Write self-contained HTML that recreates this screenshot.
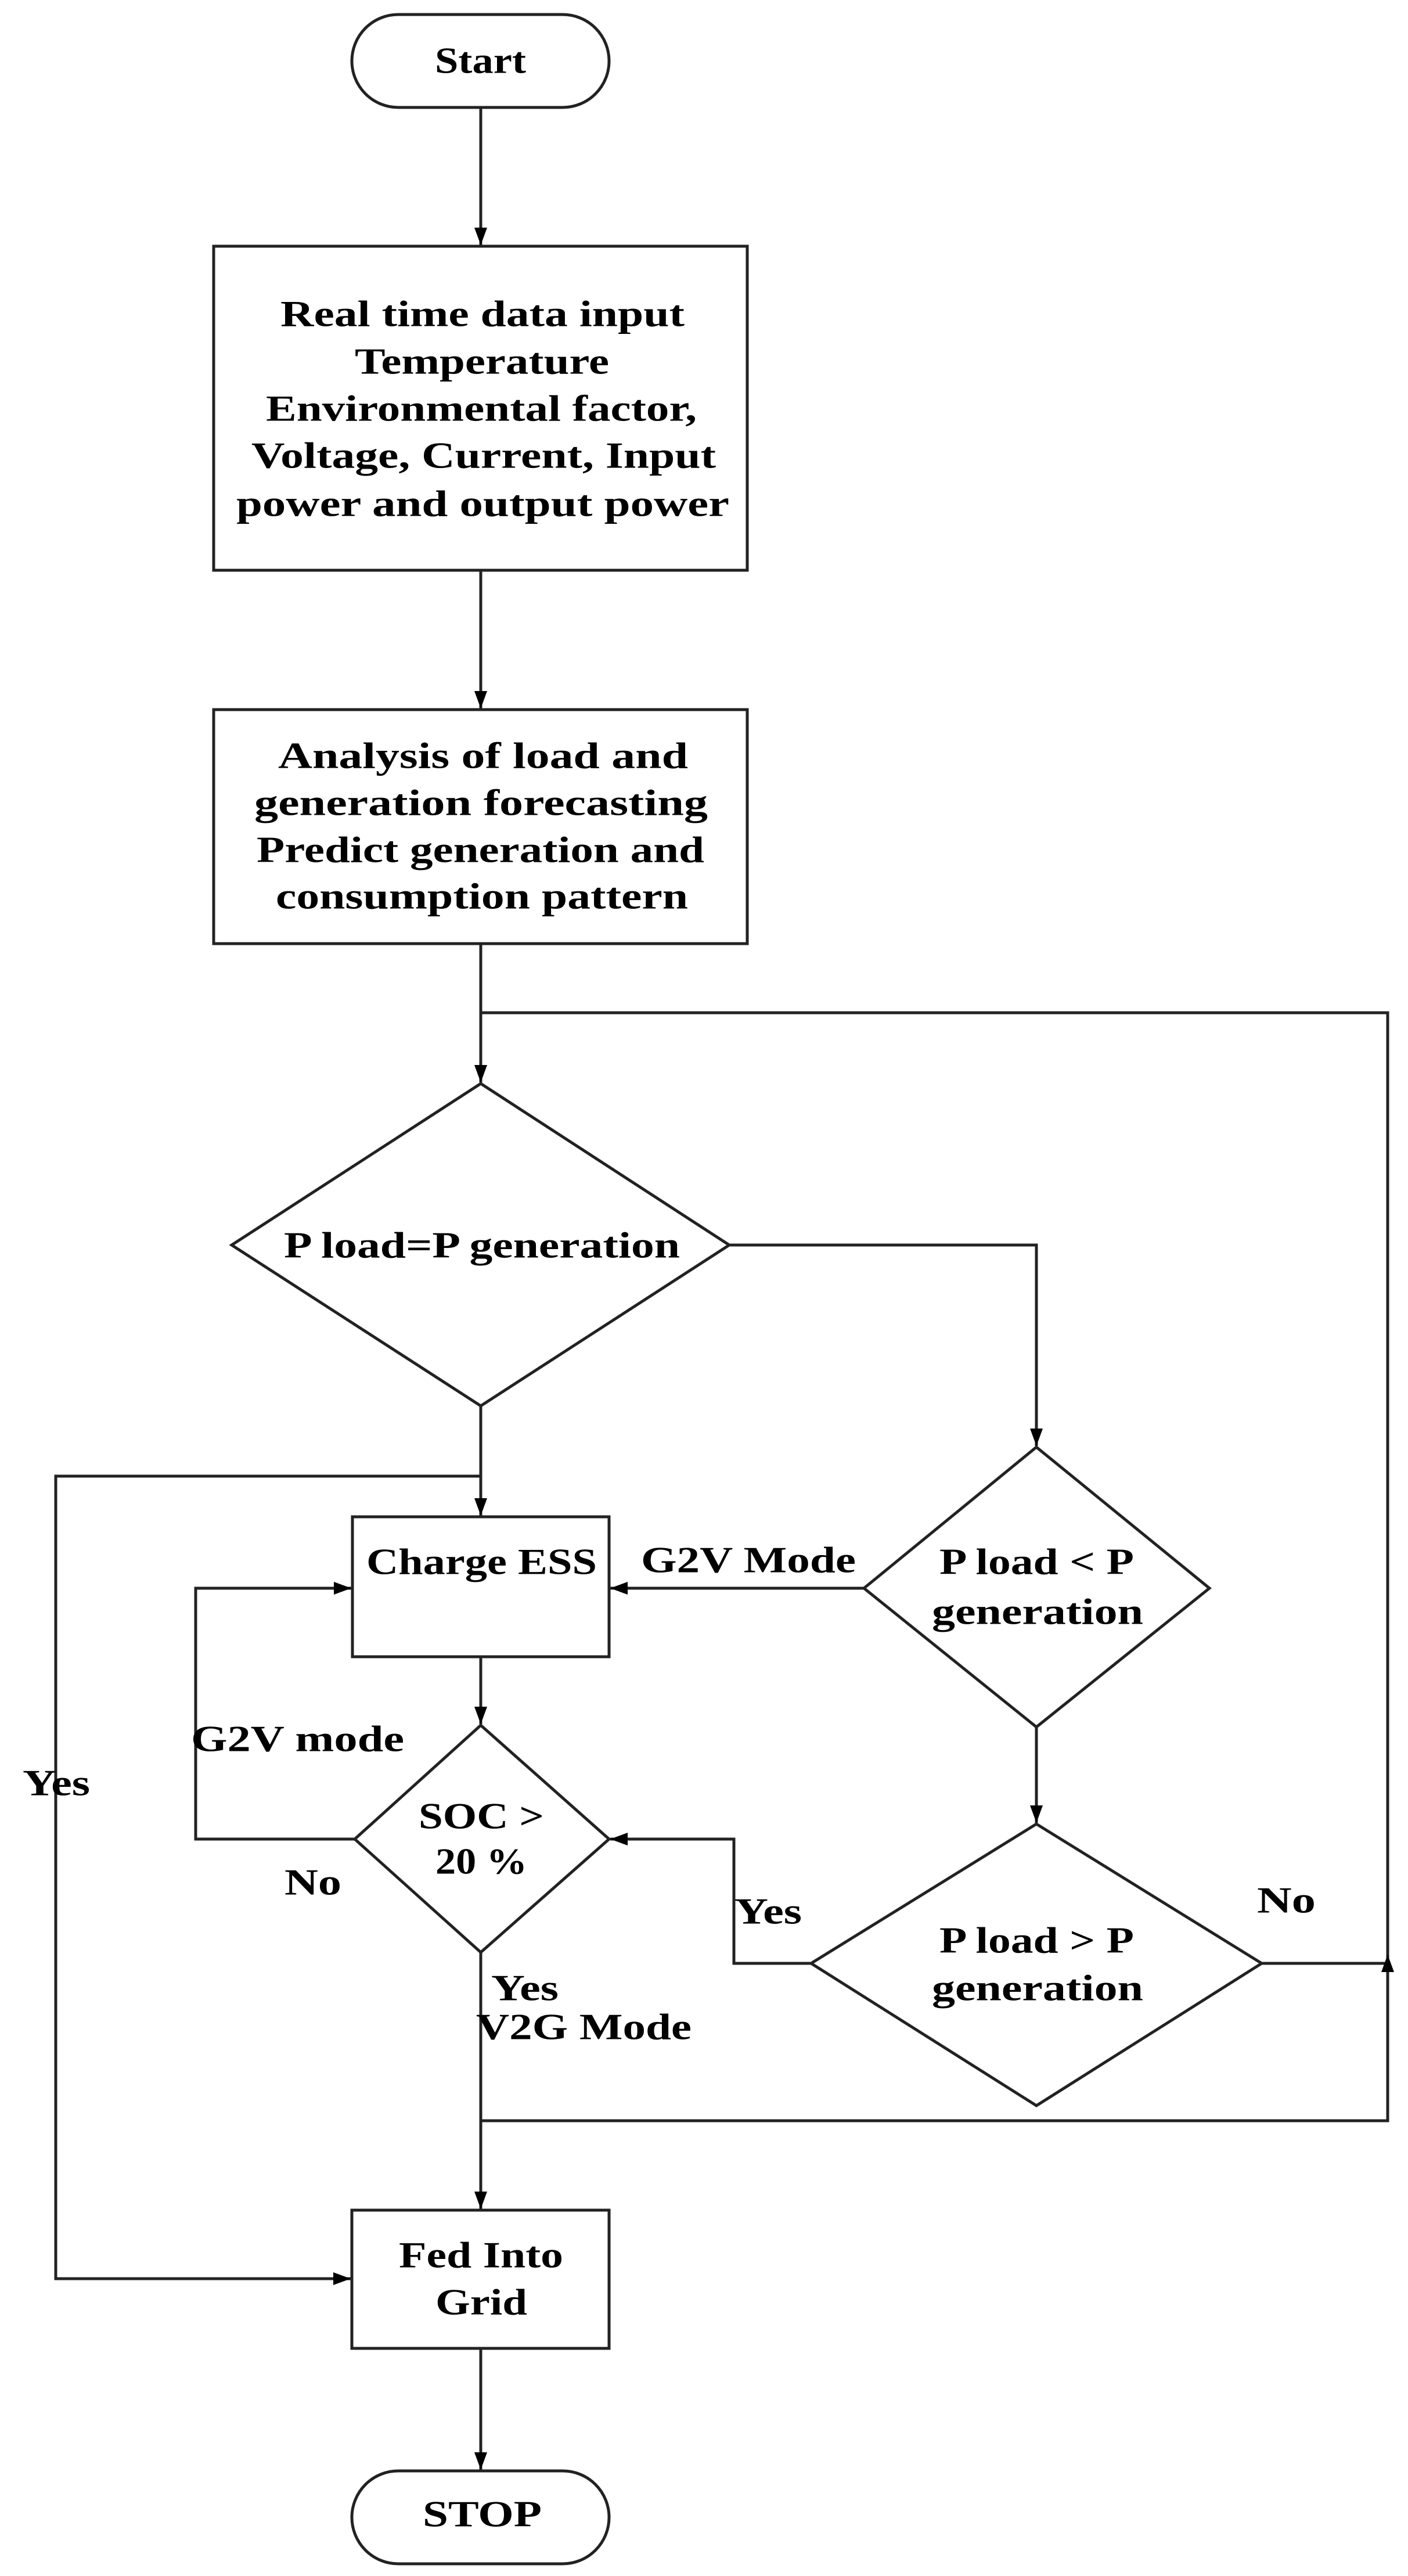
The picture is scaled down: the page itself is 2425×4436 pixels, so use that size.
<!DOCTYPE html>
<html><head><meta charset="utf-8"><style>html,body{margin:0;padding:0;background:#fff}svg{display:block}text{font-family:"Liberation Serif",serif;font-weight:bold;fill:#000;font-size:64px}</style></head>
<body>
<svg width="2425" height="4436" viewBox="0 0 2425 4436" xmlns="http://www.w3.org/2000/svg">
<defs><marker id="a" markerWidth="30" markerHeight="22" refX="10" refY="5" orient="auto" markerUnits="userSpaceOnUse" viewBox="0 0 10 10" preserveAspectRatio="none"><path d="M0,0 L10,5 L0,10 z" fill="#000"/></marker></defs>
<g fill="none" stroke="#222" stroke-width="5">
<rect x="606" y="25" width="443" height="160" rx="80"/>
<rect x="368" y="424" width="919" height="558"/>
<rect x="368" y="1222" width="919" height="403"/>
<polygon points="828,1866 1256,2144 828,2421 399,2144"/>
<rect x="607" y="2612" width="442" height="241"/>
<polygon points="1785,2492 2083,2735 1785,2974 1488,2735"/>
<polygon points="828,2971 1049,3167 828,3362 611,3167"/>
<polygon points="1785,3141 2173,3381 1785,3626 1397,3381"/>
<rect x="606" y="3806" width="443" height="238"/>
<rect x="606" y="4255" width="443" height="160" rx="80"/>
</g>
<g fill="none" stroke="#222" stroke-width="5">
<line x1="828" y1="185" x2="828" y2="422" marker-end="url(#a)"/>
<line x1="828" y1="982" x2="828" y2="1220" marker-end="url(#a)"/>
<line x1="828" y1="1625" x2="828" y2="1864" marker-end="url(#a)"/>
<polyline points="828,1744 2390,1744 2390,3652 828,3652"/>
<polyline points="1256,2144 1785,2144 1785,2490" marker-end="url(#a)"/>
<line x1="828" y1="2421" x2="828" y2="2610" marker-end="url(#a)"/>
<polyline points="828,2542 96,2542 96,3924 604,3924" marker-end="url(#a)"/>
<line x1="1488" y1="2735" x2="1051" y2="2735" marker-end="url(#a)"/>
<line x1="1785" y1="2974" x2="1785" y2="3139" marker-end="url(#a)"/>
<line x1="828" y1="2853" x2="828" y2="2969" marker-end="url(#a)"/>
<polyline points="611,3167 337,3167 337,2735 605,2735" marker-end="url(#a)"/>
<polyline points="1397,3381 1264,3381 1264,3167 1051,3167" marker-end="url(#a)"/>
<line x1="2173" y1="3381" x2="2390" y2="3381"/>
<line x1="2390" y1="3400" x2="2390" y2="3366" marker-end="url(#a)"/>
<line x1="828" y1="3362" x2="828" y2="3804" marker-end="url(#a)"/>
<line x1="828" y1="4044" x2="828" y2="4253" marker-end="url(#a)"/>
</g>
<g dominant-baseline="central">
<text x="749" y="104" textLength="157" lengthAdjust="spacingAndGlyphs">Start</text>
<text x="483" y="540" textLength="696" lengthAdjust="spacingAndGlyphs">Real time data input</text>
<text x="611" y="622" textLength="438" lengthAdjust="spacingAndGlyphs">Temperature</text>
<text x="458" y="703" textLength="742" lengthAdjust="spacingAndGlyphs">Environmental factor,</text>
<text x="433" y="784" textLength="800" lengthAdjust="spacingAndGlyphs">Voltage, Current, Input</text>
<text x="407" y="867" textLength="849" lengthAdjust="spacingAndGlyphs">power and output power</text>
<text x="479" y="1301" textLength="706" lengthAdjust="spacingAndGlyphs">Analysis of load and</text>
<text x="438" y="1382" textLength="781" lengthAdjust="spacingAndGlyphs">generation  forecasting</text>
<text x="442" y="1463" textLength="771" lengthAdjust="spacingAndGlyphs">Predict generation and</text>
<text x="475" y="1543" textLength="710" lengthAdjust="spacingAndGlyphs">consumption pattern</text>
<text x="489" y="2144" textLength="682" lengthAdjust="spacingAndGlyphs">P load=P generation</text>
<text x="1618" y="2689" textLength="335" lengthAdjust="spacingAndGlyphs">P load &lt; P</text>
<text x="1605" y="2775" textLength="364" lengthAdjust="spacingAndGlyphs">generation</text>
<text x="631" y="2689" textLength="397" lengthAdjust="spacingAndGlyphs">Charge ESS</text>
<text x="1104" y="2686" textLength="370" lengthAdjust="spacingAndGlyphs">G2V Mode</text>
<text x="721" y="3127" textLength="216" lengthAdjust="spacingAndGlyphs">SOC &gt;</text>
<text x="750" y="3205" textLength="158" lengthAdjust="spacingAndGlyphs">20 %</text>
<text x="329" y="2994" textLength="367" lengthAdjust="spacingAndGlyphs">G2V mode</text>
<text x="39" y="3070" textLength="116" lengthAdjust="spacingAndGlyphs">Yes</text>
<text x="490" y="3241" textLength="98" lengthAdjust="spacingAndGlyphs">No</text>
<text x="1618" y="3341" textLength="335" lengthAdjust="spacingAndGlyphs">P load &gt; P</text>
<text x="1605" y="3423" textLength="364" lengthAdjust="spacingAndGlyphs">generation</text>
<text x="1265" y="3291" textLength="116" lengthAdjust="spacingAndGlyphs">Yes</text>
<text x="2165" y="3272" textLength="101" lengthAdjust="spacingAndGlyphs">No</text>
<text x="846" y="3423" textLength="116" lengthAdjust="spacingAndGlyphs">Yes</text>
<text x="820" y="3490" textLength="371" lengthAdjust="spacingAndGlyphs">V2G Mode</text>
<text x="687" y="3883" textLength="283" lengthAdjust="spacingAndGlyphs">Fed Into</text>
<text x="750" y="3964" textLength="158" lengthAdjust="spacingAndGlyphs">Grid</text>
<text x="728" y="4329" textLength="205" lengthAdjust="spacingAndGlyphs">STOP</text>
</g>
</svg>
</body></html>
